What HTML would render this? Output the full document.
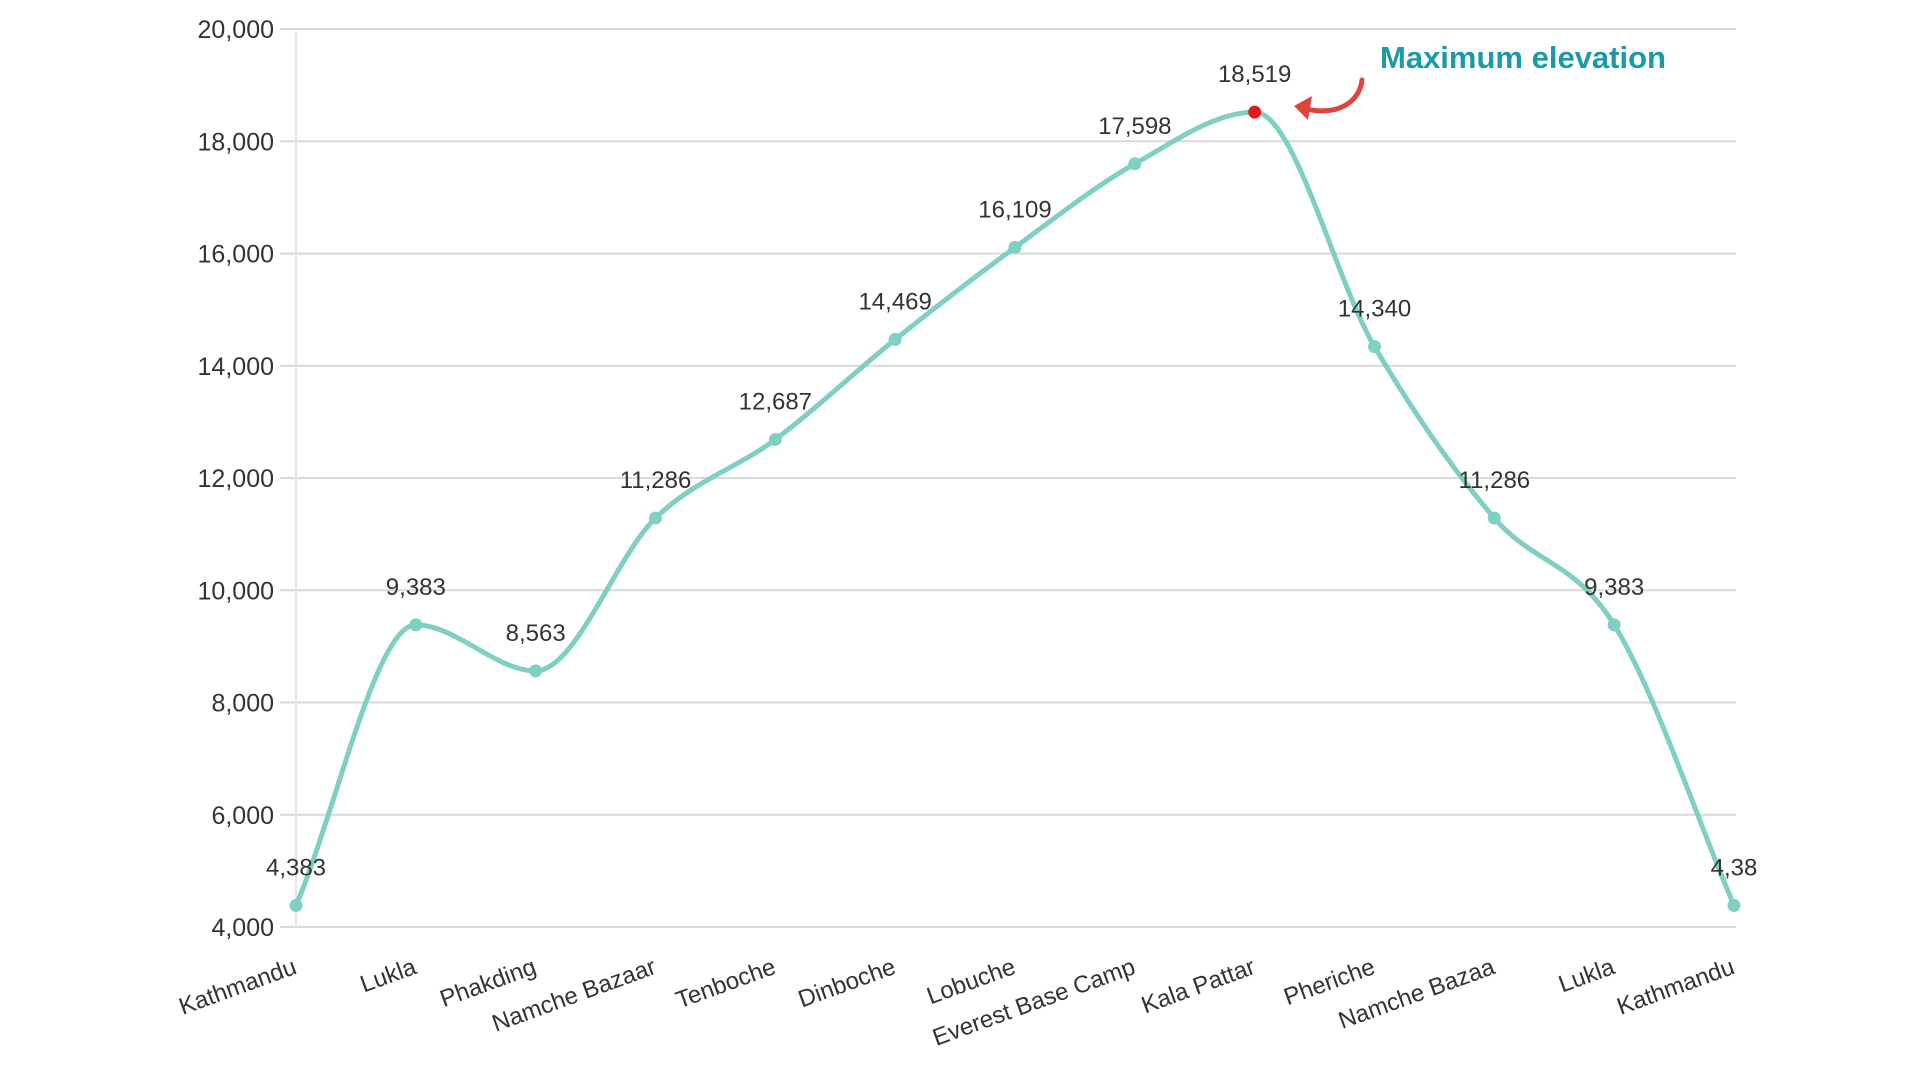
<!DOCTYPE html>
<html><head><meta charset="utf-8"><style>
html,body{margin:0;padding:0;background:#fff;}
svg{display:block;font-family:"Liberation Sans",sans-serif;}
</style></head><body>
<svg id="chart" width="1920" height="1080" viewBox="0 0 1920 1080"></svg>
<script>
const categories=["Kathmandu","Lukla","Phakding","Namche Bazaar","Tenboche","Dinboche","Lobuche","Everest Base Camp","Kala Pattar","Pheriche","Namche Bazaa","Lukla","Kathmandu"];
const elevations=[4383,9383,8563,11286,12687,14469,16109,17598,18519,14340,11286,9383,4383];
const valueLabels=["4,383","9,383","8,563","11,286","12,687","14,469","16,109","17,598","18,519","14,340","11,286","9,383","4,38"];
const yTicks=[4000,6000,8000,10000,12000,14000,16000,18000,20000];
const yTickLabels=["4,000","6,000","8,000","10,000","12,000","14,000","16,000","18,000","20,000"];

const NS="http://www.w3.org/2000/svg";
const svg=document.getElementById('chart');
const X0=296,X1=1734,Y0=927,Y1=29,ymin=4000,ymax=20000;
const xs=i=>X0+(X1-X0)*i/(categories.length-1);
const ys=v=>Y0-(Y0-Y1)*(v-ymin)/(ymax-ymin);
function mk(tag,attrs,text){const e=document.createElementNS(NS,tag);for(const k in attrs)e.setAttribute(k,attrs[k]);if(text!==undefined)e.textContent=text;svg.appendChild(e);return e;}

yTicks.forEach((t,i)=>{
  const g=mk('line',{x1:280,x2:1736,y1:ys(t),y2:ys(t),stroke:'#d9d9d9','stroke-width':2});
  
  
  const l=mk('text',{x:274,y:ys(t)+9,'text-anchor':'end','font-size':25,fill:'#333'},yTickLabels[i]);
  
  
});
const ax=mk('line',{x1:296,x2:296,y1:32,y2:927,stroke:'#e6e6e6','stroke-width':2});



categories.forEach((c,i)=>{
  const x=xs(i)+2,y=973;
  const t=mk('text',{x:x,y:y,'text-anchor':'end','font-size':24,fill:'#333',transform:`rotate(-20 ${x} ${y})`},c);
  
  
});

// monotone cubic interpolation
const pts=elevations.map((v,i)=>[xs(i),ys(v)]);
const n=pts.length,dx=[],sl=[],m=[];
for(let i=0;i<n-1;i++){dx[i]=pts[i+1][0]-pts[i][0];sl[i]=(pts[i+1][1]-pts[i][1])/dx[i];}
m[0]=sl[0];m[n-1]=sl[n-2];
for(let i=1;i<n-1;i++){m[i]=(sl[i-1]*sl[i]<=0)?0:(sl[i-1]+sl[i])/2;}
for(let i=0;i<n-1;i++){if(sl[i]===0){m[i]=m[i+1]=0;continue;}const a=m[i]/sl[i],b=m[i+1]/sl[i],s=a*a+b*b;if(s>9){const t=3/Math.sqrt(s);m[i]=t*a*sl[i];m[i+1]=t*b*sl[i];}}
let d=`M${pts[0][0]},${pts[0][1]}`;
for(let i=0;i<n-1;i++){const h=dx[i]/3;d+=` C${pts[i][0]+h},${pts[i][1]+m[i]*h} ${pts[i+1][0]-h},${pts[i+1][1]-m[i+1]*h} ${pts[i+1][0]},${pts[i+1][1]}`;}
const line=mk('path',{d:d,fill:'none',stroke:'#7fcfc4','stroke-width':5,'stroke-linecap':'round'});



const maxV=Math.max(...elevations);
elevations.forEach((v,i)=>{
  const p=mk('circle',{cx:xs(i),cy:ys(v),r:6.5,fill:v===maxV?'#e01b1b':'#7fcfc4'});
  
  
  const l=mk('text',{x:xs(i),y:ys(v)-30,'text-anchor':'middle','font-size':24,fill:'#333'},valueLabels[i]);
  
  
});

const ann=mk('text',{x:1380,y:68,'font-size':31,'font-weight':'bold',fill:'#1a9aa8'},'Maximum elevation');


const arr=mk('path',{d:'M1362,80 C1360,100 1340,118 1302,108',fill:'none',stroke:'#e0433a','stroke-width':5,'stroke-linecap':'round'});


const head=mk('path',{d:'M1294,106 L1312,96 L1308,120 Z',fill:'#e0433a'});


</script>
</body></html>
